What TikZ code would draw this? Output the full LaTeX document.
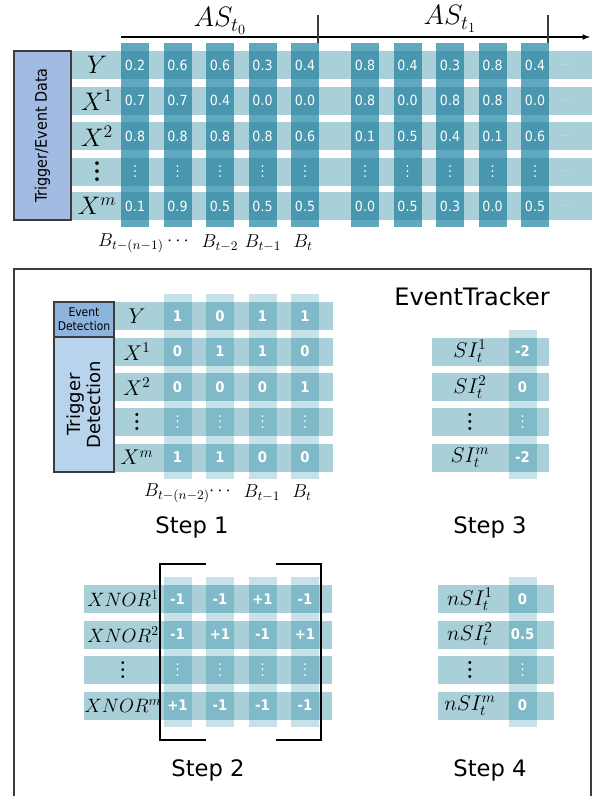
\RequirePackage{fix-cm}
\documentclass[tikz,border=0pt]{standalone}
\usepackage{fontspec}
\setsansfont{DejaVu Sans}
\newfontfamily\condfont{DejaVu Sans Condensed}
\newcommand\vdts[1]{\vbox{\baselineskip#1\lineskiplimit0pt\hbox{.}\hbox{.}\hbox{.}}}

\definecolor{rowc}{RGB}{169,207,217}
\definecolor{topcol}{RGB}{96,168,189}
\definecolor{topint}{RGB}{72,151,174}
\definecolor{stepcol}{RGB}{198,225,231}
\definecolor{stepint}{RGB}{128,186,201}
\definecolor{databox}{RGB}{162,187,226}
\definecolor{eventbox}{RGB}{141,180,221}
\definecolor{trigbox}{RGB}{184,211,236}
\definecolor{edgegray}{RGB}{60,60,60}
\definecolor{palefg}{RGB}{222,236,241}

\begin{document}
\begin{tikzpicture}[x=0.75pt, y=-0.75pt,
    val/.style={text=white, inner sep=0pt, font=\condfont\fontsize{10.5}{10.5}\selectfont},
    bit/.style={text=white, inner sep=0pt, font=\condfont\bfseries\fontsize{11}{11}\selectfont},
    cdots/.style={text=white, inner sep=0pt, font=\condfont\fontsize{10.5}{10.5}\selectfont},
    biglbl/.style={inner sep=0pt, font=\fontsize{19}{19}\selectfont},
    lbl/.style={inner sep=0pt, font=\fontsize{16}{16}\selectfont},
    blbl/.style={inner sep=0pt, font=\fontsize{14}{14}\selectfont},
    steplbl/.style={inner sep=0pt, font=\sffamily\fontsize{17}{17}\selectfont},
    boxnode/.style={draw=edgegray, line width=0.8pt, inner sep=0pt, align=center}]
    \useasboundingbox (0,0) rectangle (597,796);

    % time axis
    \coordinate (axs) at (121,37);
    \coordinate (axe) at (590,37);
    \coordinate (tk0a) at (318,15);
    \coordinate (tk0b) at (318,43);
    \coordinate (tk1a) at (548,15);
    \coordinate (tk1b) at (548,43);
    \draw[->, >=latex, line width=0.9pt] (axs) -- (axe);
    \draw[line width=0.9pt, edgegray] (tk0a) -- (tk0b);
    \draw[line width=0.9pt, edgegray] (tk1a) -- (tk1b);
    \node[font=\fontsize{21}{21}\selectfont] (as0) at (220,21) {$AS_{t_0}$};
    \node[font=\fontsize{21}{21}\selectfont] (as1) at (450,19) {$AS_{t_1}$};

    % data table
    \foreach \y in {65,100.5,136,171.5,206}
        \fill[rowc] (71,\y-14) rectangle (592,\y+14);
    \foreach \x in {135,177.5,220,262.5,305,365,407.5,450,492.5,535}{
        \fill[topcol] (\x-14,43) rectangle (\x+14,227);
        \foreach \y in {65,100.5,136,171.5,206}
            \fill[topint] (\x-14,\y-14) rectangle (\x+14,\y+14);
    }
    \node[boxnode, fill=databox, rotate=90, minimum width=126.75pt, minimum height=42.75pt,
        font=\condfont\fontsize{12}{12}\selectfont] (data) at (42.5,135.5) {Trigger/Event Data};

    \foreach \n/\y/\t in {y/65/$Y$, x1/100.5/$X^1$, x2/136/$X^2$, xd/171.5/\bfseries\vdts{6pt}, xm/206/$X^m$}{
        \node[biglbl] (top-\n) at (97,\y) {\t};
        \node[val, text=palefg, font=\fontsize{8}{8}\selectfont] (more-\n) at (567,\y) {$\cdots$};
    }
    \foreach \v [count=\c] in {0.2,0.6,0.6,0.3,0.4,0.8,0.4,0.3,0.8,0.4}{
        \pgfmathsetmacro\px{92.5+42.5*\c+17.5*(\c>5)}
        \node[val] (d-y-\c) at (\px,65) {\v};
    }
    \foreach \v [count=\c] in {0.7,0.7,0.4,0.0,0.0,0.8,0.0,0.8,0.8,0.0}{
        \pgfmathsetmacro\px{92.5+42.5*\c+17.5*(\c>5)}
        \node[val] (d-x1-\c) at (\px,100.5) {\v};
    }
    \foreach \v [count=\c] in {0.8,0.8,0.8,0.8,0.6,0.1,0.5,0.4,0.1,0.6}{
        \pgfmathsetmacro\px{92.5+42.5*\c+17.5*(\c>5)}
        \node[val] (d-x2-\c) at (\px,136) {\v};
    }
    \foreach \c in {1,...,10}{
        \pgfmathsetmacro\px{92.5+42.5*\c+17.5*(\c>5)}
        \node[cdots] (d-xd-\c) at (\px,171.5) {\vdts{4pt}};
    }
    \foreach \v [count=\c] in {0.1,0.9,0.5,0.5,0.5,0.0,0.5,0.3,0.0,0.5}{
        \pgfmathsetmacro\px{92.5+42.5*\c+17.5*(\c>5)}
        \node[val] (d-xm-\c) at (\px,206) {\v};
    }

    \node[blbl] (b0) at (131,243) {$B_{t-(n-1)}$};
    \node[blbl] (b0d) at (178,241) {$\cdots$};
    \node[blbl] (b1) at (220,243) {$B_{t-2}$};
    \node[blbl] (b2) at (263,243) {$B_{t-1}$};
    \node[blbl] (b3) at (303,243) {$B_t$};

    % EventTracker frame
    \draw[edgegray, line width=0.9pt] (14,800) -- (14,269) -- (591,269) -- (591,800);
    \node[font=\sffamily\fontsize{18}{18}\selectfont] (et) at (472,297) {EventTracker};

    % step 1
    \foreach \y in {316,351.5,387,422,457.5}
        \fill[rowc] (114,\y-14) rectangle (333,\y+14);
    \foreach \x in {177.5,220,262.5,305}{
        \fill[stepcol] (\x-14,294) rectangle (\x+14,479);
        \foreach \y in {316,351.5,387,422,457.5}
            \fill[stepint] (\x-14,\y-14) rectangle (\x+14,\y+14);
    }
    \node[boxnode, fill=eventbox, minimum width=45pt, minimum height=26.25pt,
        font=\condfont\fontsize{9}{10.5}\selectfont] (evdet) at (84,319.5) {Event\\Detection};
    \node[boxnode, fill=trigbox, rotate=90, minimum width=101.25pt, minimum height=45pt,
        font=\sffamily\fontsize{13.5}{15}\selectfont] (trdet) at (84,404.5) {Trigger\\Detection};
    \foreach \n/\y/\t in {y/316/$Y$, x1/351.5/$X^1$, x2/387/$X^2$, xd/422/\bfseries\vdts{5pt}, xm/457.5/$X^m$}
        \node[lbl] (s1-\n) at (137,\y) {\t};
    \foreach \a/\b/\cc/\e [count=\c] in {1/0/0/1, 0/1/0/1, 1/1/0/0, 1/0/1/0}{
        \pgfmathsetmacro\px{135+42.5*\c}
        \node[bit] (e-y-\c) at (\px,316) {\a};
        \node[bit] (e-x1-\c) at (\px,351.5) {\b};
        \node[bit] (e-x2-\c) at (\px,387) {\cc};
        \node[cdots] (e-xd-\c) at (\px,422) {\vdts{4pt}};
        \node[bit] (e-xm-\c) at (\px,457.5) {\e};
    }
    \node[blbl] (c0) at (177,493) {$B_{t-(n-2)}$};
    \node[blbl] (c0d) at (220,491) {$\cdots$};
    \node[blbl] (c2) at (262,493) {$B_{t-1}$};
    \node[blbl] (c3) at (302,493) {$B_t$};
    \node[steplbl] (st1) at (192,527) {Step 1};

    % step 3
    \foreach \y in {351.5,387,422,457.5}
        \fill[rowc] (432,\y-14) rectangle (549,\y+14);
    \fill[stepcol] (508.5,330) rectangle (536.5,479);
    \foreach \y in {351.5,387,422,457.5}
        \fill[stepint] (508.5,\y-14) rectangle (536.5,\y+14);
    \foreach \n/\y/\t/\v in {1/351.5/SI_t^1/-2, 2/387/SI_t^2/0, m/457.5/SI_t^m/-2}{
        \node[lbl] (si-\n) at (470,\y) {$\t$};
        \node[bit] (siv-\n) at (522.5,\y) {\v};
    }
    \node[lbl] (si-d) at (470,422) {\bfseries\vdts{5pt}};
    \node[cdots] (siv-d) at (522.5,422) {\vdts{4pt}};
    \node[steplbl] (st3) at (490,527) {Step 3};

    % step 2
    \foreach \y in {599,634.5,670,705.5}
        \fill[rowc] (84,\y-14) rectangle (332,\y+14);
    \foreach \x in {177.5,220,262.5,305}{
        \fill[stepcol] (\x-14,577) rectangle (\x+14,727);
        \foreach \y in {599,634.5,670,705.5}
            \fill[stepint] (\x-14,\y-14) rectangle (\x+14,\y+14);
    }
    \foreach \n/\y/\t in {1/599/$XNOR^1$, 2/634.5/$XNOR^2$, d/670/\bfseries\vdts{5pt}, m/705.5/$XNOR^m$}
        \node[font=\fontsize{14.5}{14.5}\selectfont, inner sep=0pt] (xn-\n) at (123,\y) {\t};
    \foreach \a/\b/\e [count=\c] in {-1/-1/+1, -1/+1/-1, +1/-1/-1, -1/+1/-1}{
        \pgfmathsetmacro\px{135+42.5*\c}
        \node[bit] (p-1-\c) at (\px,599) {\a};
        \node[bit] (p-2-\c) at (\px,634.5) {\b};
        \node[cdots] (p-d-\c) at (\px,670) {\vdts{4pt}};
        \node[bit] (p-m-\c) at (\px,705.5) {\e};
    }
    \draw[line width=1.1pt] (206,564) -- (160,564) -- (160,740) -- (206,740);
    \draw[line width=1.1pt] (276,564) -- (321,564) -- (321,740) -- (276,740);
    \node[steplbl] (st2) at (208,770) {Step 2};

    % step 4
    \foreach \y in {599,634.5,670,705.5}
        \fill[rowc] (438,\y-14) rectangle (554,\y+14);
    \fill[stepcol] (508.5,577) rectangle (536.5,727);
    \foreach \y in {599,634.5,670,705.5}
        \fill[stepint] (508.5,\y-14) rectangle (536.5,\y+14);
    \foreach \n/\y/\t/\v in {1/599/nSI_t^1/0, 2/634.5/nSI_t^2/0.5, m/705.5/nSI_t^m/0}{
        \node[lbl] (nsi-\n) at (470,\y) {$\t$};
        \node[bit] (nsiv-\n) at (522.5,\y) {\v};
    }
    \node[lbl] (nsi-d) at (470,670) {\bfseries\vdts{5pt}};
    \node[cdots] (nsiv-d) at (522.5,670) {\vdts{4pt}};
    \node[steplbl] (st4) at (490,770) {Step 4};
\end{tikzpicture}
\end{document}
